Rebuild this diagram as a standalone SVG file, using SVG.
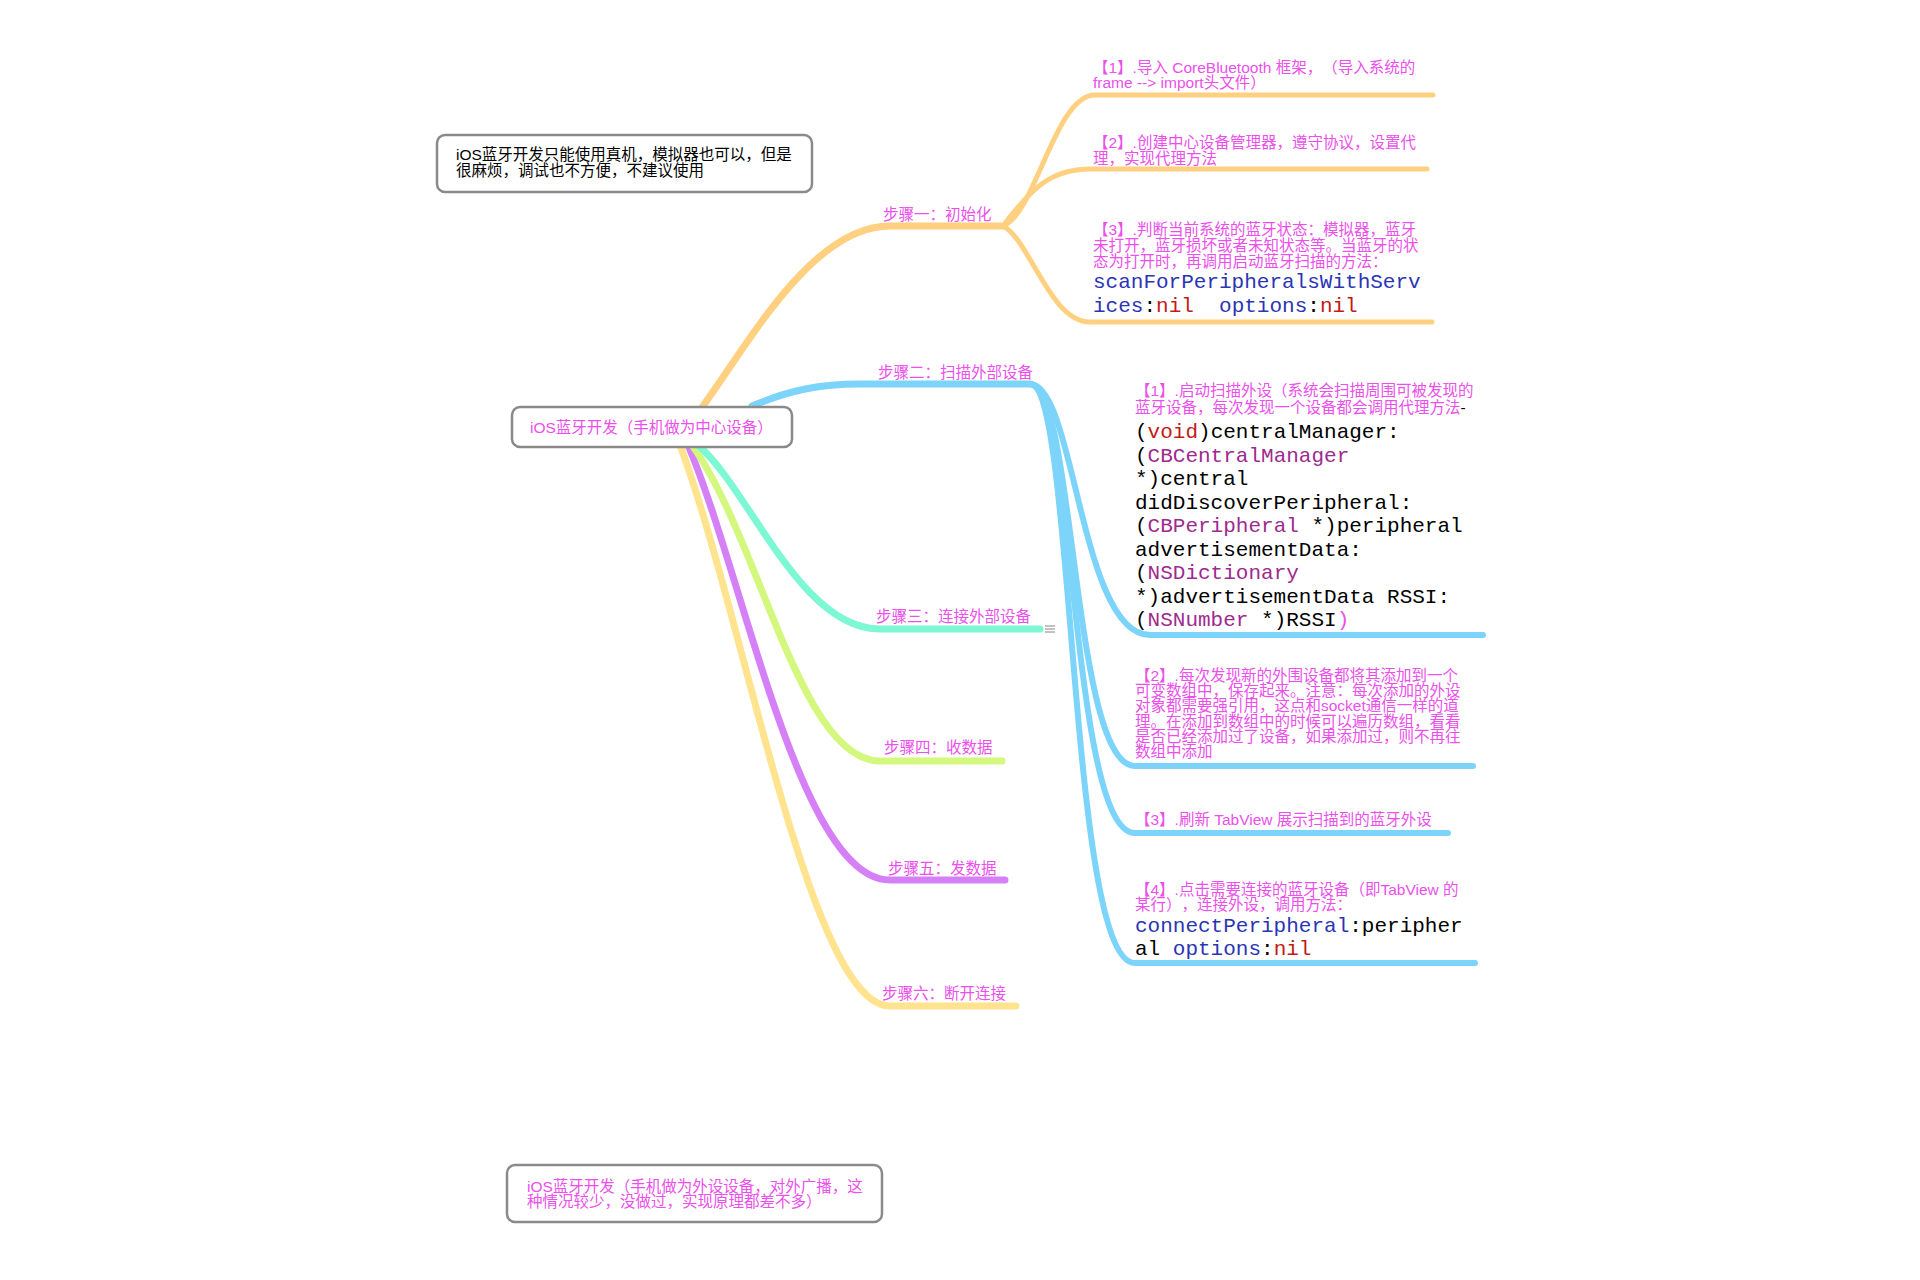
<svg xmlns="http://www.w3.org/2000/svg" width="1920" height="1280" viewBox="0 0 1920 1280">
<style>
text{text-spacing-trim:space-all}
.bg{fill:#ffffff}
.box{fill:#ffffff;stroke:#8a8a8a;stroke-width:2.5}
.t{font-family:"Liberation Sans","Noto Sans CJK SC",sans-serif;font-size:15.5px;fill:#ec4fec}
.lbl{font-family:"Liberation Sans","Noto Sans CJK SC",sans-serif;font-size:15.5px;fill:#ec4fec}
.blk{fill:#000000}
.code{font-family:"Liberation Mono","Noto Sans CJK SC",monospace;font-size:21px;fill:#000000;white-space:pre}
.kb{fill:#2a35b5}
.kr{fill:#c41a16}
.kp{fill:#9e2a8e}
.pk{fill:#ec4fec}
.br{fill:none;stroke-linecap:round;stroke-linejoin:round}
.main{stroke-width:7}
.sub{stroke-width:5}
.bsub{stroke-width:6}
.c1{stroke:#ffd080}
.c2{stroke:#7dd4fa}
.c3{stroke:#7df7d4}
.c4{stroke:#d4f77d}
.c5{stroke:#d680f7}
.c6{stroke:#ffe38f}
.ico{stroke:#999999;stroke-width:1.2}
</style>
<rect class="bg" x="0" y="0" width="1920" height="1280"/>

<g id="connectors">
  <path class="br main c6" d="M680,445 C745,620 810,1006 890,1006 L1016,1006"/>
  <path class="br main c5" d="M688,445 C745,580 800,880 890,880 L1005,880"/>
  <path class="br main c4" d="M692,445 C760,540 800,761 880,761 L1002,761"/>
  <path class="br main c3" d="M698,445 C750,490 800,629 880,629 L1040,629"/>
  <path class="br main c1" d="M700,410 C745,350 810,226 890,226 L1003,226"/>
  <path class="br sub c1" d="M1003,226 C1035,215 1055,95 1095,95 L1433,95"/>
  <path class="br sub c1" d="M1003,226 C1030,190 1050,169 1090,169 L1427,169"/>
  <path class="br sub c1" d="M1003,226 C1030,240 1050,322 1090,322 L1432,322"/>
  <path class="br main c2" d="M752,406 C790,390 820,384 860,384 L1030,384"/>
  <path class="br bsub c2" d="M1030,384 C1075,384 1080,635 1150,635 L1483,635"/>
  <path class="br bsub c2" d="M1030,384 C1075,384 1072,766 1135,766 L1473,766"/>
  <path class="br bsub c2" d="M1030,384 C1075,384 1070,833 1135,833 L1448,833"/>
  <path class="br bsub c2" d="M1030,384 C1075,384 1068,963 1135,963 L1475,963"/>
</g>

<g id="note-real-device">
  <rect class="box" x="437" y="135" width="375" height="57" rx="8"/>
  <text class="t blk" x="456" y="160">iOS蓝牙开发只能使用真机，模拟器也可以，但是</text>
  <text class="t blk" x="456" y="176">很麻烦，调试也不方便，不建议使用</text>
</g>

<g id="root">
  <rect class="box" x="512" y="407" width="280" height="40" rx="8"/>
  <text class="lbl" x="530" y="433">iOS蓝牙开发（手机做为中心设备）</text>
</g>

<g id="note-peripheral">
  <rect class="box" x="507" y="1165" width="375" height="57" rx="8"/>
  <text class="t" x="527" y="1192">iOS蓝牙开发（手机做为外设设备，对外广播，这</text>
  <text class="t" x="527" y="1207">种情况较少，没做过，实现原理都差不多）</text>
</g>

<g id="step1">
  <text class="lbl" x="883" y="220">步骤一：初始化</text>
</g>
<g id="step1-item1">
  <text class="t" x="1093" y="73">【1】.导入 CoreBluetooth 框架，（导入系统的</text>
  <text class="t" x="1093" y="88">frame --&gt; import头文件）</text>
</g>
<g id="step1-item2">
  <text class="t" x="1093" y="148">【2】.创建中心设备管理器，遵守协议，设置代</text>
  <text class="t" x="1093" y="164">理，实现代理方法</text>
</g>
<g id="step1-item3">
  <text class="t" x="1093" y="235">【3】.判断当前系统的蓝牙状态：模拟器，蓝牙</text>
  <text class="t" x="1093" y="251">未打开，蓝牙损坏或者未知状态等。当蓝牙的状</text>
  <text class="t" x="1093" y="267">态为打开时，再调用启动蓝牙扫描的方法：</text>
  <text class="code" x="1093" y="288"><tspan class="kb">scanForPeripheralsWithServ</tspan></text>
  <text class="code" x="1093" y="312" xml:space="preserve"><tspan class="kb">ices</tspan>:<tspan class="kr">nil</tspan>  <tspan class="kb">options</tspan>:<tspan class="kr">nil</tspan></text>
</g>

<g id="step2">
  <text class="lbl" x="878" y="378">步骤二：扫描外部设备</text>
</g>
<g id="step2-item1">
  <text class="t" x="1135" y="396">【1】.启动扫描外设（系统会扫描周围可被发现的</text>
  <text class="t" x="1135" y="413">蓝牙设备，每次发现一个设备都会调用代理方法<tspan class="blk">-</tspan></text>
  <text class="code" x="1135" y="438">(<tspan class="kr">void</tspan>)centralManager:</text>
  <text class="code" x="1135" y="461.5">(<tspan class="kp">CBCentralManager</tspan></text>
  <text class="code" x="1135" y="485">*)central</text>
  <text class="code" x="1135" y="508.5">didDiscoverPeripheral:</text>
  <text class="code" x="1135" y="532" xml:space="preserve">(<tspan class="kp">CBPeripheral</tspan> *)peripheral</text>
  <text class="code" x="1135" y="555.5">advertisementData:</text>
  <text class="code" x="1135" y="579">(<tspan class="kp">NSDictionary</tspan></text>
  <text class="code" x="1135" y="602.5" xml:space="preserve">*)advertisementData RSSI:</text>
  <text class="code" x="1135" y="626" xml:space="preserve">(<tspan class="kp">NSNumber</tspan> *)RSSI<tspan class="pk">)</tspan></text>
</g>
<g id="step2-item2">
  <text class="t" x="1135" y="681">【2】.每次发现新的外围设备都将其添加到一个</text>
  <text class="t" x="1135" y="696">可变数组中，保存起来。注意：每次添加的外设</text>
  <text class="t" x="1135" y="711">对象都需要强引用，这点和socket通信一样的道</text>
  <text class="t" x="1135" y="727">理。在添加到数组中的时候可以遍历数组，看看</text>
  <text class="t" x="1135" y="742">是否已经添加过了设备，如果添加过，则不再往</text>
  <text class="t" x="1135" y="757">数组中添加</text>
</g>
<g id="step2-item3">
  <text class="t" x="1135" y="825">【3】.刷新 TabView 展示扫描到的蓝牙外设</text>
</g>
<g id="step2-item4">
  <text class="t" x="1135" y="895">【4】.点击需要连接的蓝牙设备（即TabView 的</text>
  <text class="t" x="1135" y="910">某行），连接外设，调用方法：</text>
  <text class="code" x="1135" y="932"><tspan class="kb">connectPeripheral</tspan>:peripher</text>
  <text class="code" x="1135" y="955" xml:space="preserve">al <tspan class="kb">options</tspan>:<tspan class="kr">nil</tspan></text>
</g>

<g id="step3">
  <text class="lbl" x="876" y="622">步骤三：连接外部设备</text>
  <line class="ico" x1="1045" y1="626" x2="1055" y2="626"/>
  <line class="ico" x1="1045" y1="629" x2="1055" y2="629"/>
  <line class="ico" x1="1045" y1="632" x2="1055" y2="632"/>
</g>
<g id="step4">
  <text class="lbl" x="884" y="753">步骤四：收数据</text>
</g>
<g id="step5">
  <text class="lbl" x="888" y="874">步骤五：发数据</text>
</g>
<g id="step6">
  <text class="lbl" x="882" y="999">步骤六：断开连接</text>
</g>
</svg>
